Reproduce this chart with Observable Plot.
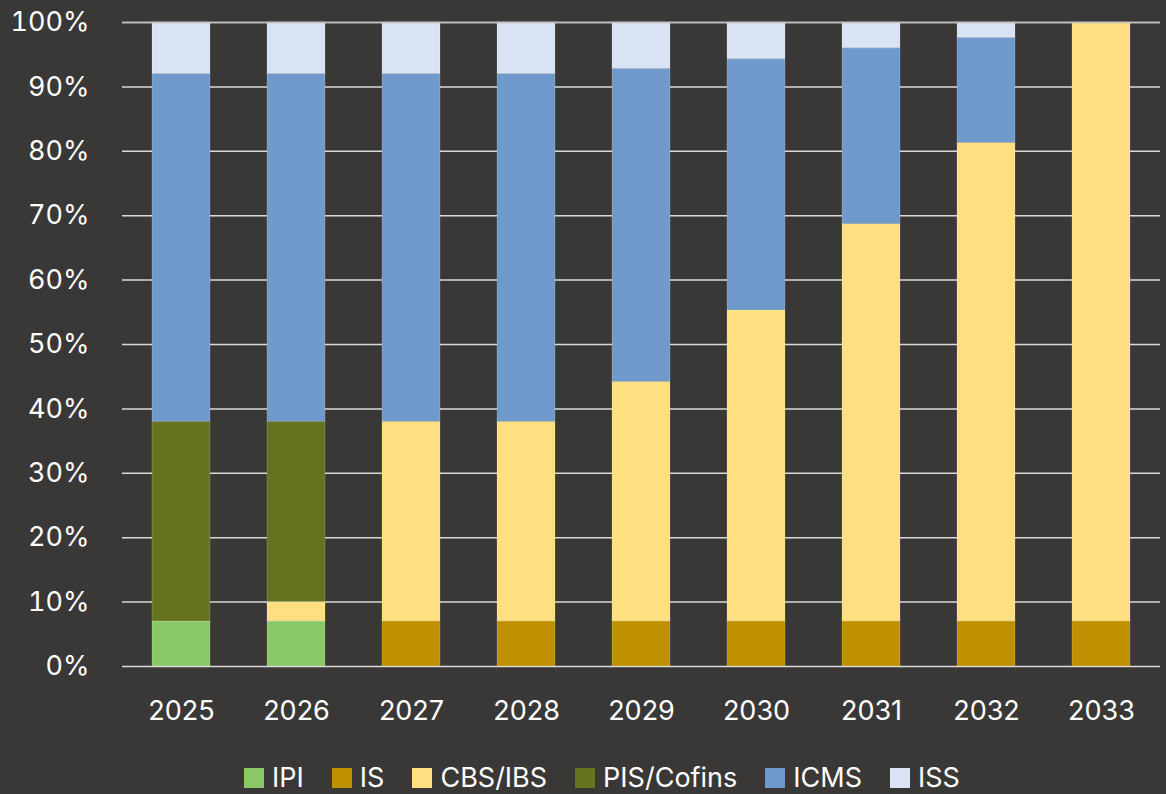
<!DOCTYPE html>
<html>
<head>
<meta charset="utf-8">
<script src="https://cdn.jsdelivr.net/npm/d3@7"></script>
<script src="https://cdn.jsdelivr.net/npm/@observablehq/plot@0.6"></script>
<style>
  html, body { margin: 0; padding: 0; background: #393837; }
  body { width: 1166px; height: 794px; overflow: hidden; font-family: "Inter", "Open Sans", sans-serif; }
  #legend { position: absolute; left: 0; width: 1204px; top: 765px; display: flex; justify-content: center; align-items: center; color: #ffffff; font-size: 27px; line-height: 26px; }
  .item { display: flex; align-items: center; margin: 0 14px; }
  .sw { width: 20px; height: 20px; margin-right: 8px; }
</style>
</head>
<body>
<div id="chart"></div>
<div id="legend"></div>
<script>
const years = ["2025", "2026", "2027", "2028", "2029", "2030", "2031", "2032", "2033"];
const seriesNames = ["IPI", "IS", "CBS/IBS", "PIS/Cofins", "ICMS", "ISS"];
const seriesColors = ["#8BC968", "#BF9000", "#FFDF80", "#667420", "#6F9ACB", "#D9E3F3"];
const ipi  = [7, 7, 0, 0, 0, 0, 0, 0, 0];
const is   = [0, 0, 7, 7, 7, 7, 7, 7, 7];
const cbs  = [0, 3, 31, 31, 37.2, 48.3, 61.7, 74.3, 93];
const pis  = [31, 28, 0, 0, 0, 0, 0, 0, 0];
const icms = [54, 54, 54, 54, 48.6, 39.0, 27.3, 16.3, 0];
const iss  = [8, 8, 8, 8, 7.2, 5.7, 4.0, 2.4, 0];
const yTicks = [0, 10, 20, 30, 40, 50, 60, 70, 80, 90, 100];

const valuesBySeries = [ipi, is, cbs, pis, icms, iss];
const data = [];
seriesNames.forEach((s, si) => {
  years.forEach((yr, i) => {
    data.push({year: yr, series: s, value: valuesBySeries[si][i]});
  });
});

const chart = Plot.plot({
  width: 1166,
  height: 740,
  marginTop: 22,
  marginBottom: 74,
  marginLeft: 122,
  marginRight: 6,
  style: {background: "#393837", color: "#ffffff", fontFamily: "Inter, 'Open Sans', sans-serif", fontSize: "27px"},
  x: {domain: years, paddingInner: 0.5, paddingOuter: 0.25, label: null, tickSize: 0, tickPadding: 34},
  y: {domain: [0, 100], ticks: yTicks, tickFormat: d => d + "%", label: null, tickSize: 0, tickPadding: 33},
  color: {domain: seriesNames, range: seriesColors},
  marks: [
    Plot.ruleY(yTicks, {stroke: "#d9d9d9", strokeWidth: 1.5}),
    Plot.barY(data, Plot.stackY({
      x: "year",
      y: "value",
      fill: "series",
      order: seriesNames,
      stroke: "#ffffff",
      strokeOpacity: 0.18,
      strokeWidth: 1
    })),
    Plot.ruleY([100], {stroke: "#bfbfbf", strokeWidth: 1.5})
  ]
});
document.getElementById("chart").appendChild(chart);

const legend = document.getElementById("legend");
seriesNames.forEach((s, i) => {
  const item = document.createElement("div");
  item.className = "item";
  const sw = document.createElement("div");
  sw.className = "sw";
  sw.style.background = seriesColors[i];
  const t = document.createElement("span");
  t.textContent = s;
  item.appendChild(sw);
  item.appendChild(t);
  legend.appendChild(item);
});
</script>
</body>
</html>
